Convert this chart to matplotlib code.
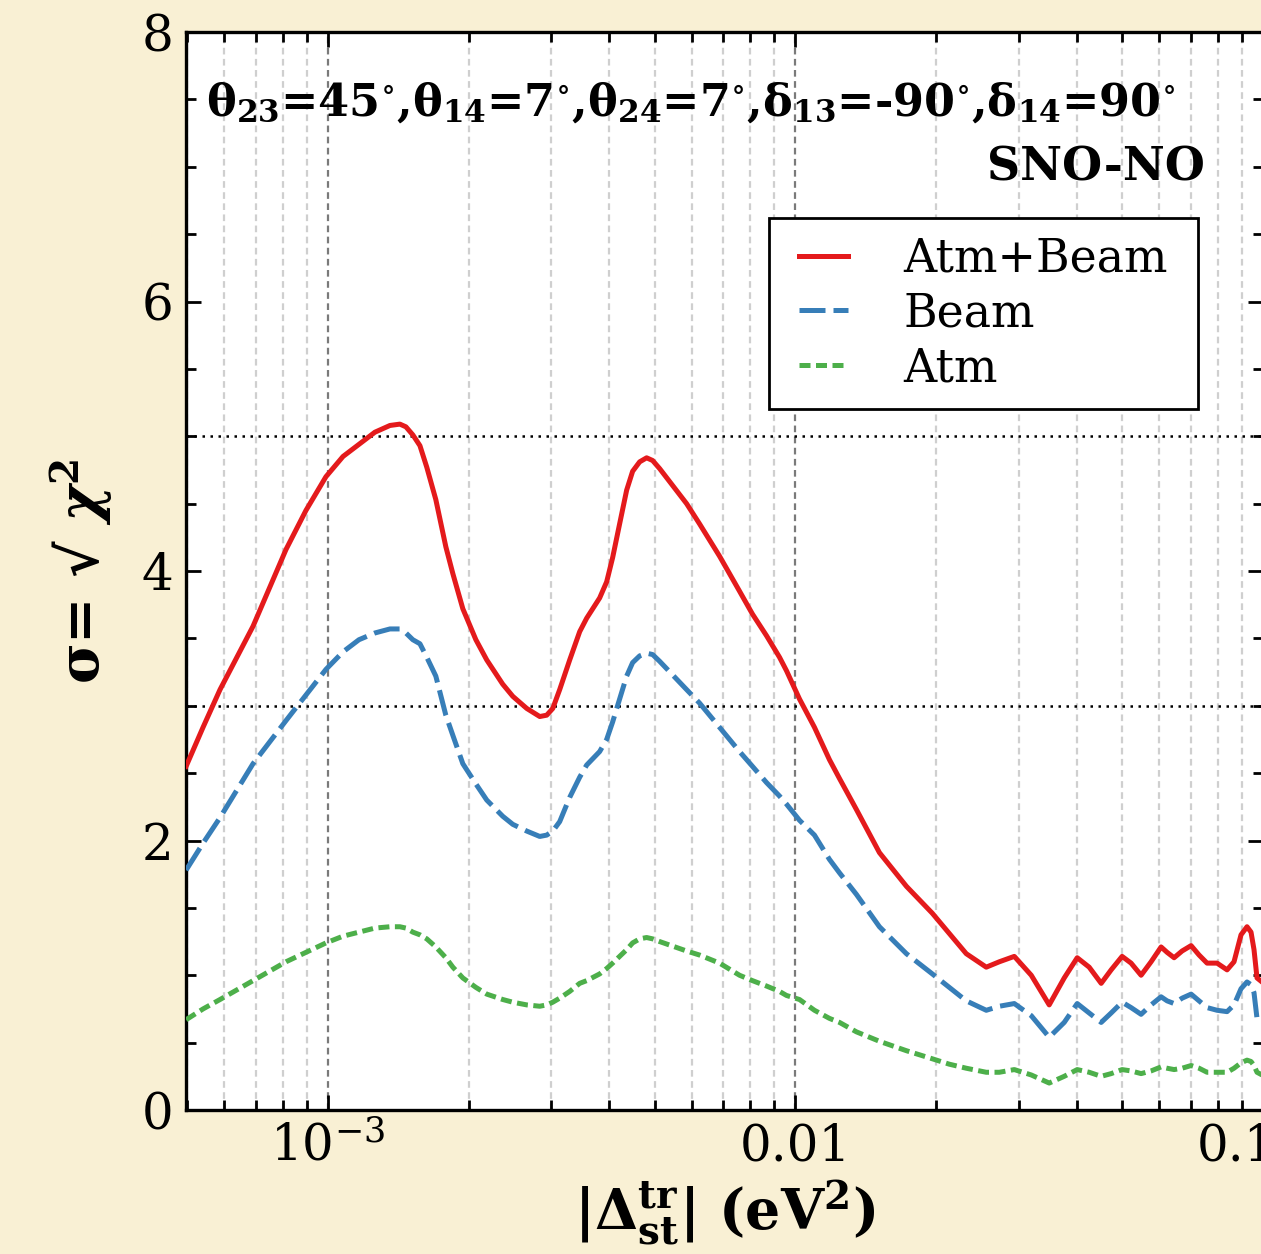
import matplotlib
matplotlib.use("Agg")
import matplotlib.pyplot as plt
from matplotlib.patches import Rectangle
from matplotlib.transforms import ScaledTranslation
from matplotlib.ticker import FixedLocator, LogLocator, NullFormatter, MultipleLocator

# ---------------- data ----------------
dm2 = [4.972e-4, 5.405e-4, 5.877e-4, 6.914e-4, 8.134e-4, 8.974e-4, 9.902e-4, 1.077e-3,
       1.165e-3, 1.260e-3,
       1.357e-3, 1.425e-3, 1.468e-3, 1.519e-3, 1.573e-3, 1.627e-3, 1.701e-3, 1.787e-3,
       1.850e-3, 1.943e-3, 2.072e-3, 2.186e-3, 2.365e-3, 2.485e-3, 2.662e-3, 2.838e-3,
       2.937e-3, 3.026e-3, 3.131e-3, 3.289e-3, 3.455e-3, 3.576e-3, 3.812e-3, 3.946e-3,
       4.064e-3, 4.206e-3, 4.354e-3, 4.484e-3, 4.642e-3, 4.804e-3, 4.948e-3, 5.122e-3,
       5.849e-3, 6.234e-3, 6.880e-3, 7.592e-3, 8.092e-3, 8.670e-3, 9.243e-3, 9.567e-3,
       1.020e-2, 1.098e-2, 1.182e-2, 1.242e-2, 1.350e-2, 1.512e-2, 1.727e-2, 1.962e-2,
       2.133e-2, 2.319e-2, 2.559e-2, 2.729e-2, 2.938e-2, 3.194e-2, 3.489e-2, 3.757e-2,
       4.005e-2, 4.248e-2, 4.507e-2, 4.734e-2, 4.996e-2, 5.222e-2, 5.486e-2, 5.763e-2,
       6.054e-2, 6.235e-2, 6.454e-2, 6.714e-2, 7.018e-2, 7.299e-2, 7.592e-2, 7.976e-2,
       8.378e-2, 8.670e-2, 8.974e-2, 9.243e-2, 9.427e-2, 9.567e-2, 9.709e-2, 9.952e-2]

atm_beam = [2.55, 2.84, 3.12, 3.59, 4.16, 4.45, 4.70, 4.85,
            4.94, 5.03,
            5.08, 5.09, 5.07, 5.01, 4.93, 4.77, 4.53, 4.18,
            3.98, 3.72, 3.49, 3.34, 3.16, 3.07, 2.98, 2.92,
            2.93, 2.98, 3.12, 3.34, 3.55, 3.65, 3.80, 3.92,
            4.10, 4.35, 4.60, 4.74, 4.81, 4.84, 4.82, 4.76,
            4.50, 4.35, 4.11, 3.85, 3.68, 3.52, 3.36, 3.26,
            3.05, 2.84, 2.60, 2.46, 2.23, 1.91, 1.66, 1.46,
            1.31, 1.16, 1.06, 1.10, 1.14, 1.00, 0.78, 0.98,
            1.13, 1.06, 0.94, 1.04, 1.14, 1.09, 1.00, 1.10,
            1.21, 1.17, 1.13, 1.18, 1.22, 1.15, 1.09, 1.09,
            1.04, 1.10, 1.30, 1.36, 1.32, 1.19, 0.98, 0.95]

beam = [1.78, 1.98, 2.17, 2.57, 2.89, 3.08, 3.27, 3.40,
        3.49, 3.54,
        3.57, 3.57, 3.54, 3.49, 3.46, 3.36, 3.22, 2.93,
        2.78, 2.57, 2.42, 2.30, 2.18, 2.12, 2.07, 2.03,
        2.04, 2.07, 2.14, 2.32, 2.47, 2.56, 2.66, 2.75,
        2.88, 3.05, 3.22, 3.32, 3.37, 3.39, 3.38, 3.33,
        3.12, 3.02, 2.84, 2.66, 2.55, 2.43, 2.33, 2.27,
        2.15, 2.04, 1.86, 1.76, 1.60, 1.36, 1.16, 1.01,
        0.91, 0.81, 0.74, 0.77, 0.79, 0.70, 0.54, 0.65,
        0.79, 0.72, 0.65, 0.72, 0.80, 0.76, 0.71, 0.78,
        0.84, 0.81, 0.79, 0.83, 0.86, 0.81, 0.76, 0.74,
        0.73, 0.78, 0.90, 0.95, 0.93, 0.87, 0.68, 0.65]

atm = [0.67, 0.75, 0.82, 0.96, 1.10, 1.17, 1.24, 1.29,
       1.32, 1.35,
       1.36, 1.36, 1.35, 1.32, 1.30, 1.27, 1.21, 1.13,
       1.06, 0.98, 0.91, 0.86, 0.82, 0.80, 0.78, 0.77,
       0.78, 0.80, 0.83, 0.88, 0.94, 0.96, 1.01, 1.05,
       1.09, 1.14, 1.19, 1.24, 1.27, 1.28, 1.27, 1.25,
       1.18, 1.15, 1.09, 1.00, 0.96, 0.92, 0.88, 0.85,
       0.82, 0.74, 0.68, 0.65, 0.58, 0.51, 0.44, 0.38,
       0.34, 0.31, 0.28, 0.28, 0.30, 0.26, 0.20, 0.25,
       0.30, 0.28, 0.25, 0.27, 0.30, 0.29, 0.27, 0.29,
       0.32, 0.31, 0.30, 0.31, 0.33, 0.31, 0.28, 0.28,
       0.28, 0.31, 0.35, 0.37, 0.36, 0.33, 0.28, 0.26]

sigma_levels = [3, 5]
series_labels = ["Atm+Beam", "Beam", "Atm"]
x_major_ticks = [1e-3, 1e-2, 1e-1]
x_tick_labels = [r"$10^{-3}$", "0.01", "0.1"]
y_ticks = [0, 2, 4, 6, 8]

# ---------------- style ----------------
plt.rcParams["font.family"] = ["DejaVu Serif"]
plt.rcParams["mathtext.fontset"] = "dejavuserif"

BG = "#F9F0D4"
fig = plt.figure(figsize=(12.61, 12.54), dpi=100, facecolor=BG)
ax = fig.add_axes([186/1261, 1 - 1110/1254, (1263-186)/1261, (1110-32)/1254])
ax.set_facecolor("white")

ax.set_xscale("log")
ax.set_xlim(4.97e-4, 0.1)
ax.set_ylim(0, 8)

ax.xaxis.set_major_locator(FixedLocator(x_major_ticks))
ax.xaxis.set_minor_locator(LogLocator(base=10, subs=range(2, 10), numticks=20))
ax.xaxis.set_minor_formatter(NullFormatter())
ax.set_xticks(x_major_ticks)
ax.set_xticklabels(x_tick_labels)
ax.grid(True, which="major", axis="x", color="#7a7a7a", ls=(0, (3, 2)), lw=1.6)
ax.grid(True, which="minor", axis="x", color="#cfcfcf", ls=(0, (3, 2)), lw=1.6)
ax.set_axisbelow(True)

ax.set_yticks(y_ticks)
ax.yaxis.set_minor_locator(MultipleLocator(0.5))

ax.tick_params(which="both", direction="in", top=True, right=True, labelsize=36,
               width=2.0)
ax.tick_params(which="major", length=11, pad=9)
ax.tick_params(which="minor", length=7)
for s in ax.spines.values():
    s.set_linewidth(2.4)

# shift the last (edge) x tick label a little to the left, as in the reference
last_lbl = ax.get_xticklabels()[-1]
last_lbl.set_transform(last_lbl.get_transform() + ScaledTranslation(-26/100, 0, fig.dpi_scale_trans))

for lvl in sigma_levels:
    ax.axhline(lvl, color="black", ls=(0, (1, 2.2)), lw=1.8, zorder=2)

lw = 3.6
ax.plot(dm2, atm_beam, color="#E41A1C", lw=lw, ls="-", label=series_labels[0], zorder=5)
ax.plot(dm2, beam, color="#377EB8", lw=lw, ls=(0, (5.2, 1.6)), label=series_labels[1], zorder=4)
ax.plot(dm2, atm, color="#4DAF4A", lw=lw, ls=(0, (2.2, 1.1)), label=series_labels[2], zorder=3)

ax.text(0.019, 0.935,
        r"$\mathbf{\theta_{23}}$=45$^{\circ}$,$\mathbf{\theta_{14}}$=7$^{\circ}$,"
        r"$\mathbf{\theta_{24}}$=7$^{\circ}$,$\mathbf{\delta_{13}}$=-90$^{\circ}$,"
        r"$\mathbf{\delta_{14}}$=90$^{\circ}$",
        transform=ax.transAxes, fontsize=32, fontweight="bold", ha="left", va="center")
ax.text(0.946, 0.874, "SNO-NO", transform=ax.transAxes, fontsize=33,
        fontweight="bold", ha="right", va="center")

# legend frame (drawn separately so its padding can match the reference)
box_x0, box_x1 = (769 - 186) / 1077, (1198 - 186) / 1077
box_y0, box_y1 = (1110 - 409) / 1078, (1110 - 218) / 1078
ax.add_patch(Rectangle((box_x0, box_y0), box_x1 - box_x0, box_y1 - box_y0,
                       transform=ax.transAxes, facecolor="white", edgecolor="black",
                       lw=2.0, zorder=6))
leg = ax.legend(loc="upper right", bbox_to_anchor=(box_x1 - 12/1077, box_y1), borderaxespad=0,
                fontsize=33, handlelength=1.07, handletextpad=1.2, labelspacing=0.21,
                frameon=False, borderpad=0.4)
leg.set_zorder(7)

ax.set_ylabel("σ= √ $\\boldsymbol{\\chi}^{\\mathbf{2}}$", fontsize=40, fontweight="bold",
              labelpad=19)
ax.set_xlabel(r"$\mathbf{|\Delta^{tr}_{st}|}$ (eV$^{\mathbf{2}}$)", fontsize=40,
              fontweight="bold", labelpad=5)

fig.savefig("out.png", dpi=100, facecolor=BG)
